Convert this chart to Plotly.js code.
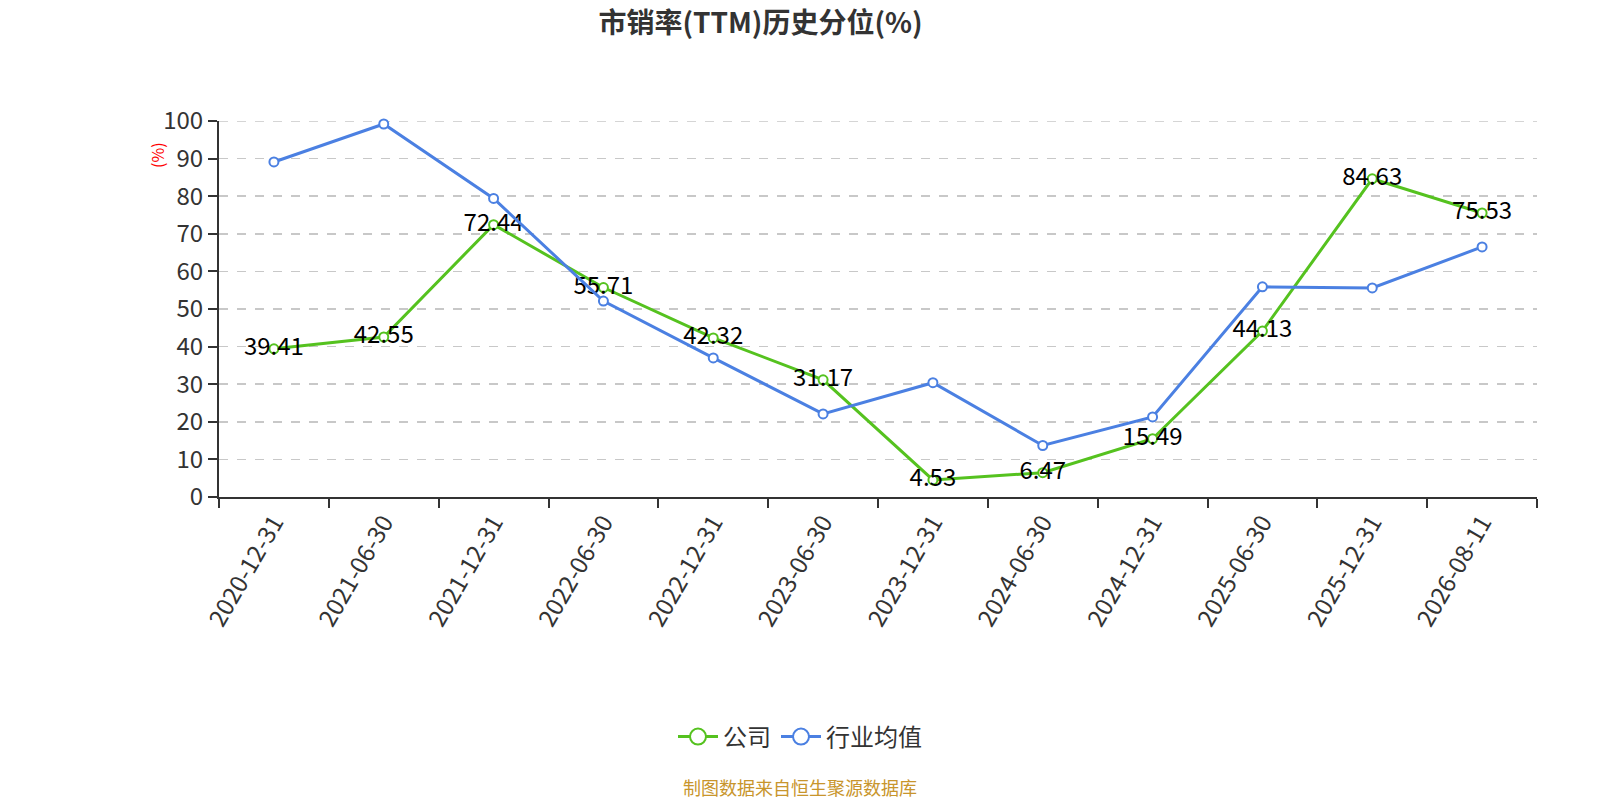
<!DOCTYPE html>
<html>
<head>
<meta charset="utf-8">
<script src="https://cdn.plot.ly/plotly-3.0.1.min.js"></script>
<style>
  html, body { margin: 0; padding: 0; background: #fff; }
  #chart { width: 1600px; height: 800px; }
</style>
</head>
<body>
<div id="chart"></div>
<script>
const dates = [
  "2020-12-31", "2021-06-30", "2021-12-31", "2022-06-30", "2022-12-31", "2023-06-30",
  "2023-12-31", "2024-06-30", "2024-12-31", "2025-06-30", "2025-12-31", "2026-08-11",
];
const companyValues = [39.41, 42.55, 72.44, 55.71, 42.32, 31.17, 4.53, 6.47, 15.49, 44.13, 84.63, 75.53];
const industryValues = [89.1, 99.2, 79.4, 52.1, 37.0, 22.1, 30.4, 13.7, 21.3, 55.9, 55.6, 66.5];
const seriesNames = ["公司", "行业均值"];
const yTicks = [0, 10, 20, 30, 40, 50, 60, 70, 80, 90, 100];

const FONT = "'Microsoft YaHei', 'Noto Sans CJK SC', sans-serif";
const GREEN = "#55c21f";
const BLUE = "#4b80e2";
const GRID = "#c8c8c8";

// plot area in pixels
const PLOT_L = 219, PLOT_R = 1537, PLOT_T = 121, PLOT_B = 497;
const PW = PLOT_R - PLOT_L, PH = PLOT_B - PLOT_T;

function seriesTrace(name, values, color, withText) {
  const t = {
    type: "scatter",
    mode: withText ? "lines+markers+text" : "lines+markers",
    name,
    x: dates,
    y: values,
    line: { color, width: 3 },
    marker: { symbol: "circle", size: 9, color: "#fff", line: { color, width: 2 } },
    cliponaxis: false,
    showlegend: false,
  };
  if (withText) {
    t.text = values.map((v) => v.toFixed(2));
    t.textposition = "middle center";
    t.textfont = { family: FONT, size: 24, color: "#000" };
  }
  return t;
}

// legend-only entries so the legend symbol can be drawn larger
function legendTrace(name, color) {
  return {
    type: "scatter",
    mode: "lines+markers",
    name,
    x: [null],
    y: [null],
    line: { color, width: 3 },
    marker: { symbol: "circle", size: 16, color: "#fff", line: { color, width: 2 } },
    showlegend: true,
  };
}

const data = [
  seriesTrace(seriesNames[0], companyValues, GREEN, true),
  seriesTrace(seriesNames[1], industryValues, BLUE, false),
  legendTrace(seriesNames[0], GREEN),
  legendTrace(seriesNames[1], BLUE),
];

const yMax = yTicks[yTicks.length - 1];

const layout = {
  width: 1600,
  height: 800,
  paper_bgcolor: "#fff",
  plot_bgcolor: "#fff",
  font: { family: FONT, color: "#333" },
  margin: { l: PLOT_L, r: 1600 - PLOT_R, t: PLOT_T, b: 800 - PLOT_B },
  showlegend: true,
  title: {
    text: "<b>市销率(TTM)历史分位(%)</b>",
    font: { family: FONT, size: 28, color: "#333" },
    xref: "container",
    yref: "container",
    x: 0.4753,
    xanchor: "center",
    y: 0.971,
    yanchor: "middle",
  },
  xaxis: {
    type: "category",
    range: [-0.5, dates.length - 0.5],
    tickson: "boundaries",
    ticks: "outside",
    ticklen: 9,
    tickwidth: 2,
    tickcolor: "#333",
    tickangle: -60,
    tickfont: { family: FONT, size: 24, color: "#333" },
    showline: true,
    linecolor: "#333",
    linewidth: 2,
    showgrid: false,
    zeroline: false,
    fixedrange: true,
  },
  yaxis: {
    range: [0, yMax],
    tickvals: yTicks,
    ticks: "outside",
    ticklen: 9,
    tickwidth: 2,
    tickcolor: "#333",
    tickfont: { family: FONT, size: 24, color: "#333" },
    showline: true,
    linecolor: "#333",
    linewidth: 2,
    showgrid: true,
    gridcolor: GRID,
    griddash: "dash",
    gridwidth: 1.5,
    zeroline: false,
    fixedrange: true,
  },
  // top grid line: plotly drops the grid line that sits on the plot edge
  shapes: [
    {
      type: "line",
      xref: "paper",
      yref: "y",
      x0: 0,
      x1: 1,
      y0: yMax,
      y1: yMax,
      layer: "below",
      line: { color: GRID, width: 1.5, dash: "dash" },
    },
  ],
  legend: {
    orientation: "h",
    xref: "container",
    yref: "container",
    x: 0.5,
    xanchor: "center",
    y: 1 - 737 / 800,
    yanchor: "middle",
    font: { family: FONT, size: 24, color: "#333" },
    itemsizing: "trace",
    itemwidth: 40,
  },
  annotations: [
    {
      text: "(%)",
      xref: "paper",
      yref: "paper",
      x: (157 - PLOT_L) / PW,
      xanchor: "center",
      y: (PLOT_B - 155) / PH,
      yanchor: "middle",
      textangle: -90,
      showarrow: false,
      font: { family: FONT, size: 16, color: "#ff0000" },
    },
    {
      text: "制图数据来自恒生聚源数据库",
      xref: "paper",
      yref: "paper",
      x: (800 - PLOT_L) / PW,
      xanchor: "center",
      y: (PLOT_B - 787) / PH,
      yanchor: "middle",
      showarrow: false,
      font: { family: FONT, size: 18, color: "#c8952c" },
    },
  ],
};

Plotly.newPlot("chart", data, layout, {
  displayModeBar: false,
  responsive: false,
  staticPlot: true,
});
</script>
</body>
</html>
